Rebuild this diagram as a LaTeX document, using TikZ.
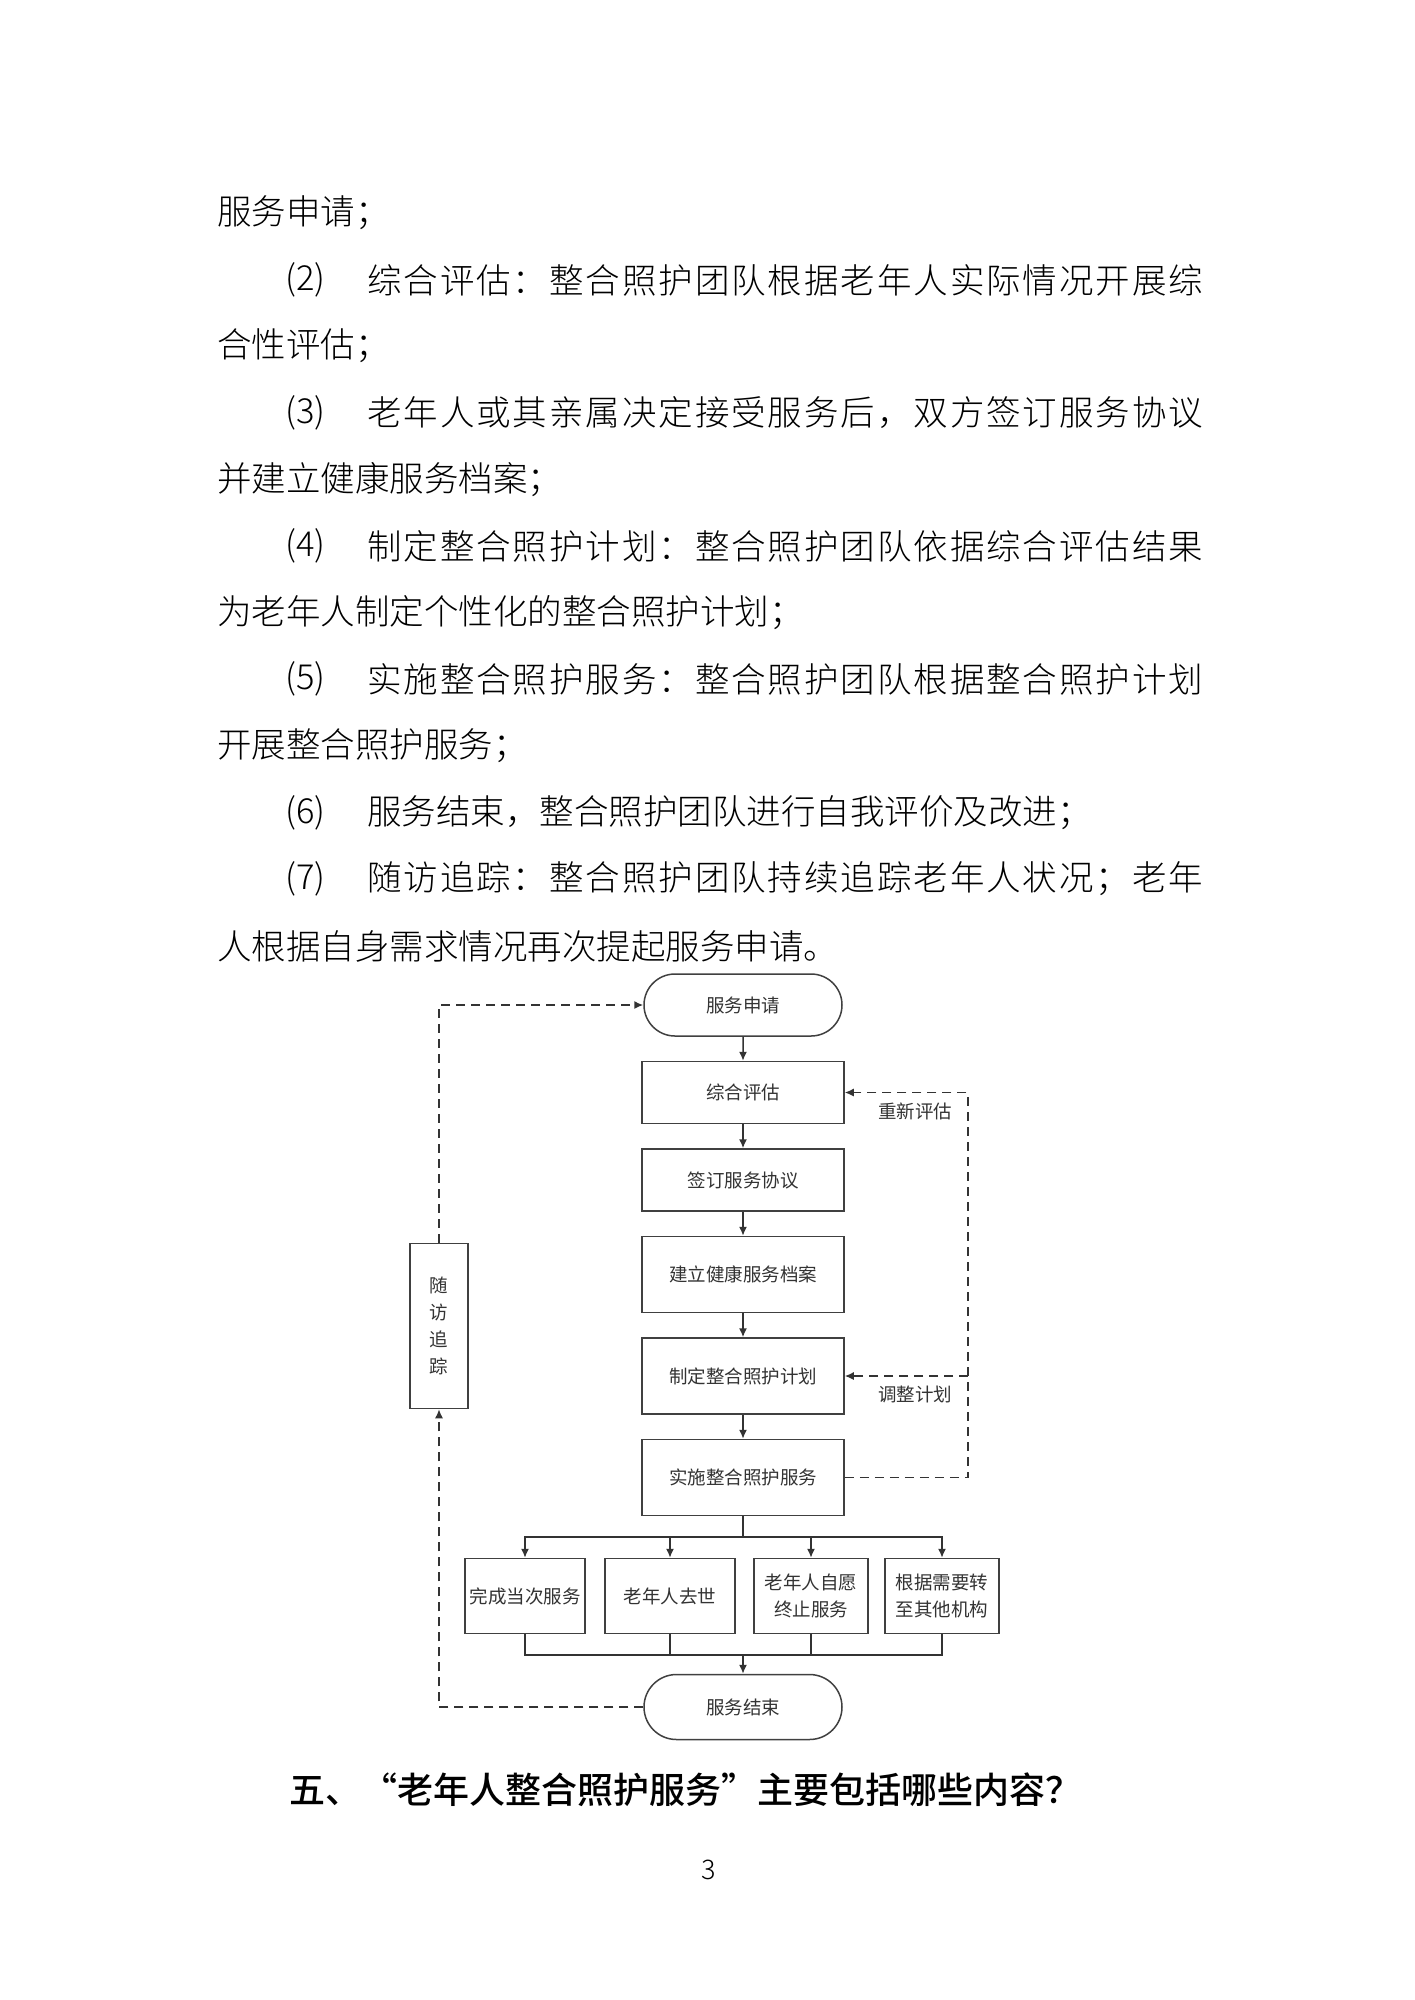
\documentclass[tikz,border=0pt]{standalone}
\usepackage{fontspec}
\setmainfont{Noto Sans CJK SC}
\newfontfamily\lightfont{Noto Sans CJK SC Light}
\newfontfamily\medfont{Noto Sans CJK SC Medium}[RawFeature=+fwid]
\usetikzlibrary{positioning, arrows.meta, shapes.misc}

\newcommand\bodyfont{\lightfont\fontsize{34.5pt}{40pt}\selectfont}
\newcommand\flowfont{\fontsize{18.5pt}{27pt}\selectfont}
% spread a full line of characters over the text width
\def\jfirst#1{#1\jrest}
\def\jrest#1{\ifx#1\relax\else\hfil#1\expandafter\jrest\fi}
\newcommand\jline[1]{\makebox[836pt][s]{\jfirst#1\relax}}

\begin{document}
\begin{tikzpicture}[x=1pt, y=-1pt,
  para/.style={anchor=west, inner sep=0pt, font=\bodyfont},
  procbox/.style={draw=black!75, line width=1.5pt, fill=white, minimum width=202pt,
                  minimum height=62pt, inner sep=2pt, font=\flowfont, text=black!80, align=center},
  tallbox/.style={procbox, minimum height=76pt},
  termbox/.style={procbox, rounded rectangle},
  endbox/.style={procbox, minimum height=75pt},
  flow/.style={draw=black!80, line width=1.5pt, -{Latex[length=9pt, width=8pt]}},
  link/.style={draw=black!80, line width=1.5pt},
  back/.style={flow, dash pattern=on 9pt off 6pt},
  lbl/.style={font=\flowfont, text=black!80, below=6pt}
]
\fill[white] (0,0) rectangle (1414,2000);
\useasboundingbox (0,0) rectangle (1414,2000);

% text above the chart
\node[para] (l1) at (217,213) {服务申请；};
\node[para] (n2) at (285,280) {(2)};
\node[para] (l2) at (367,280) {\jline{综合评估：整合照护团队根据老年人实际情况开展综}};
\node[para] (l3) at (217,346) {合性评估；};
\node[para] (n3) at (285,413) {(3)};
\node[para] (l4) at (367,413) {\jline{老年人或其亲属决定接受服务后，双方签订服务协议}};
\node[para] (l5) at (217,480) {并建立健康服务档案；};
\node[para] (n4) at (285,546) {(4)};
\node[para] (l6) at (367,546) {\jline{制定整合照护计划：整合照护团队依据综合评估结果}};
\node[para] (l7) at (217,613) {为老年人制定个性化的整合照护计划；};
\node[para] (n5) at (285,679) {(5)};
\node[para] (l8) at (367,679) {\jline{实施整合照护服务：整合照护团队根据整合照护计划}};
\node[para] (l9) at (217,746) {开展整合照护服务；};
\node[para] (n6) at (285,813) {(6)};
\node[para] (l10) at (367,813) {服务结束，整合照护团队进行自我评价及改进；};
\node[para] (n7) at (285,879) {(7)};
\node[para] (l11) at (367,879) {\jline{随访追踪：整合照护团队持续追踪老年人状况；老年}};
\node[para] (l12) at (217,946) {人根据自身需求情况再次提起服务申请。};

% main column
\node[termbox] (apply) at (743,1005) {服务申请};
\node[procbox, below=24pt of apply] (assess) {综合评估};
\node[procbox, below=24pt of assess] (sign) {签订服务协议};
\node[tallbox, below=24pt of sign] (record) {建立健康服务档案};
\node[tallbox, below=24pt of record] (plan) {制定整合照护计划};
\node[tallbox, below=24pt of plan] (serve) {实施整合照护服务};

% ways the service ends
\node[endbox, minimum width=120pt] (done) at (525,1596) {完成当次服务};
\node[endbox, minimum width=130pt] (death) at (670,1596) {老年人去世};
\node[endbox, minimum width=114pt] (quit) at (811,1596) {老年人自愿\\终止服务};
\node[endbox, minimum width=114pt] (move) at (942,1596) {根据需要转\\至其他机构};
\node[termbox, minimum height=65pt] (finish) at (743,1707) {服务结束};
\node[procbox, minimum width=58pt, minimum height=165pt] (follow) at (439,1326) {随\\访\\追\\踪};

\coordinate (split) at (743,1537);
\coordinate (join) at (743,1655);
\coordinate (rside) at (968,1000);

\draw[flow] (apply) -- (assess);
\draw[flow] (assess) -- (sign);
\draw[flow] (sign) -- (record);
\draw[flow] (record) -- (plan);
\draw[flow] (plan) -- (serve);
\draw[link] (serve) -- (split);
\foreach \b in {done, death, quit, move} {
  \draw[flow] (split) -| (\b);
  \draw[link] (\b) |- (join);
}
\draw[flow] (join) -- (finish);

% dashed loops
\draw[back] (finish) -| (follow);
\draw[back] (follow) |- (apply);
\draw[back] (serve.east) -- (serve.east -| rside) -- (assess.east -| rside)
  -- node[lbl, pos=0.43] {重新评估} (assess.east);
\draw[back] (plan.east -| rside) -- node[lbl, pos=0.43] {调整计划} (plan.east);

\node[para, font=\medfont\fontsize{36pt}{40pt}\selectfont] (head) at (289,1790) {五、“老年人整合照护服务”主要包括哪些内容？};
\node[font=\lightfont\fontsize{27pt}{30pt}\selectfont] (pageno) at (709,1870) {3};
\end{tikzpicture}
\end{document}
